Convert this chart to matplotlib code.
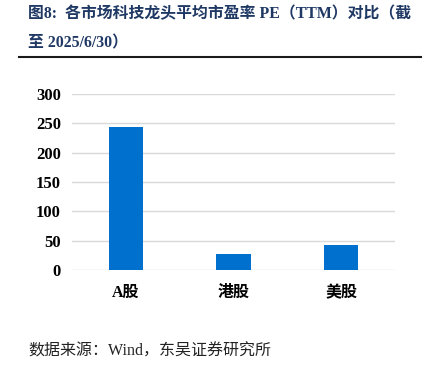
import matplotlib
matplotlib.use("Agg")
import matplotlib.pyplot as plt
from matplotlib.lines import Line2D

categories = ["A股", "港股", "美股"]
pe_ttm = [243, 27, 42]
yticks = [0, 50, 100, 150, 200, 250, 300]

title_line1 = "图8:  各市场科技龙头平均市盈率 PE（TTM）对比（截"
title_line2 = "至 2025/6/30）"
source = "数据来源：Wind，东吴证券研究所"

fonts = ["Liberation Serif", "Noto Sans CJK SC", "DejaVu Sans"]
plt.rcParams["font.family"] = fonts

fig = plt.figure(figsize=(4.26, 3.71), dpi=100)
ax = fig.add_axes([72 / 426, 1 - 270 / 371, 323 / 426, 176 / 371])

ax.bar(range(len(categories)), pe_ttm, width=0.32, color="#0070CE", zorder=3)
ax.set_xlim(-0.5, 2.5)
ax.set_ylim(0, 300)
ax.set_yticks(yticks)
ax.set_xticks(range(len(categories)))
ax.set_xticklabels(categories, fontsize=11.5, fontweight="bold")
for lbl in ax.get_yticklabels():
    lbl.set_fontsize(12)
    lbl.set_fontweight("bold")
ax.grid(axis="y", color="#D9D9D9", linewidth=1, zorder=0)
ax.tick_params(length=0, pad=8)
ax.tick_params(axis="x", pad=11)
for s in ax.spines.values():
    s.set_visible(False)

navy = "#1F3864"
fig.text(28 / 426, 1 - 14 / 371, title_line1, fontsize=11.4, fontweight="bold",
         color=navy, va="center", ha="left")
fig.text(28 / 426, 1 - 43 / 371, title_line2, fontsize=11.4, fontweight="bold",
         color=navy, va="center", ha="left")
fig.add_artist(Line2D([19 / 426, 421 / 426], [1 - 57 / 371, 1 - 57 / 371],
                      color="#1a1a1a", linewidth=1.5, transform=fig.transFigure))
fig.text(28 / 426, 1 - 352 / 371, source, fontsize=11.5, color="#222222",
         va="center", ha="left")

fig.savefig("out.png", dpi=100)
